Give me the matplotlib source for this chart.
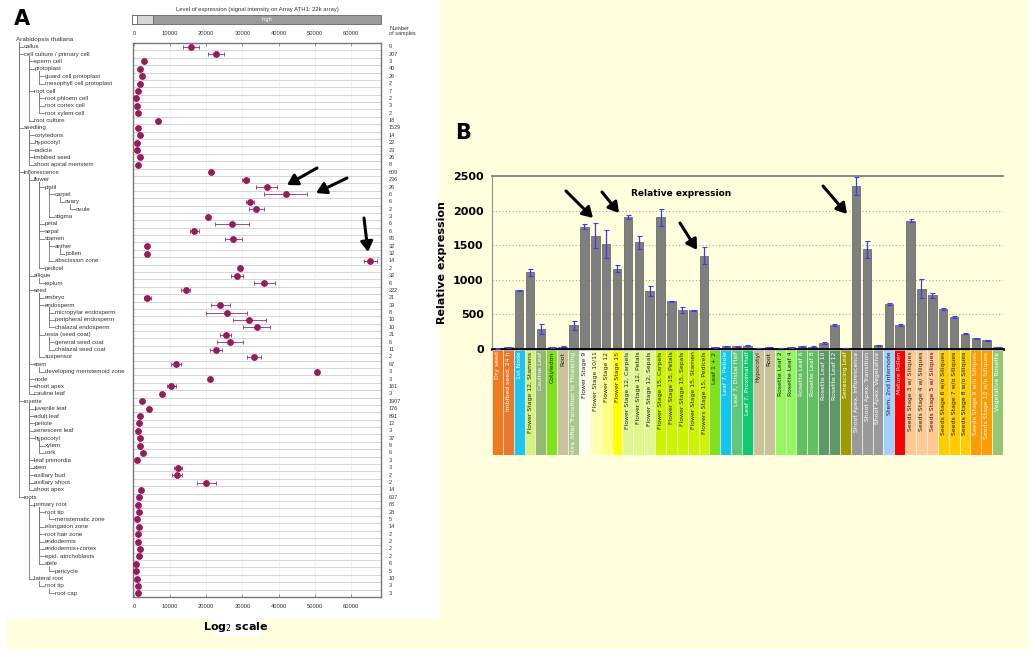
import numpy as np
import matplotlib.pyplot as plt
import matplotlib.transforms as mtransforms
from matplotlib.patches import Rectangle

W, H = 1034, 656

# ---------------- panel A : donnees ----------------
tissus = ["callus", "cell culture / primary cell", "sperm cell", "protoplast",
          "guard cell protoplast", "mesophyll cell protoplast", "root cell",
          "root phloem cell", "root cortex cell", "root xylem cell", "root culture",
          "seedling", "cotyledons", "hypocotyl", "radicle", "imbibed seed",
          "shoot apical meristem", "inflorescence", "flower", "pistil", "carpel",
          "ovary", "ovule", "stigma", "petal", "sepal", "stamen", "anther", "pollen",
          "abscission zone", "pedicel", "silique", "replum", "seed", "embryo",
          "endosperm", "micropylar endosperm", "peripheral endosperm",
          "chalazal endosperm", "testa (seed coat)", "general seed coat",
          "chalazal seed coat", "suspensor", "stem", "developing meristemoid zone",
          "node", "shoot apex", "cauline leaf", "rosette", "juvenile leaf",
          "adult leaf", "petiole", "senescent leaf", "hypocotyl", "xylem", "cork",
          "leaf primordia", "stem", "axillary bud", "axillary shoot", "shoot apex",
          "roots", "primary root", "root tip", "meristematic zone",
          "elongation zone", "root hair zone", "endodermis", "endodermis+cortex",
          "epid. atrichoblasts", "stele", "pericycle", "lateral root", "root tip",
          "root cap"]
niveaux = [1, 1, 2, 2, 3, 3, 2, 3, 3, 3, 2,
           1, 2, 2, 2, 2, 2,
           1, 2, 3, 4, 5, 6, 4, 3, 3, 3, 4, 5, 4, 3, 2, 3, 2, 3, 3, 4, 4, 4, 3, 4, 4, 3,
           2, 3, 2, 2, 2,
           1, 2, 2, 2, 2, 2, 3, 3, 2, 2, 2, 2, 2,
           1, 2, 3, 4, 3, 3, 3, 3, 3, 3, 4, 2, 3, 4]
signal = [15700, 22600, 2800, 1600, 2100, 1600, 1000, 600, 700, 1200, 6700,
          1200, 1600, 800, 900, 1600, 1000,
          21200, 30900, 36700, 41900, 32200, 33800, 20400, 27100, 16700, 27500,
          3600, 3600, 65300, 29300, 28400, 36000, 14300, 3700, 23900, 25600,
          31900, 33900, 25300, 26500, 22600, 33200, 11600, 50700, 20900, 10300, 7800,
          2300, 4200, 1700, 1400, 1100, 1700, 1600, 2500, 900, 12200, 11900, 20000, 2000,
          1300, 1100, 1300, 700, 1300, 1100, 1100, 1700, 1300, 600, 500, 900, 1100, 1000]
erreur = [2200, 2200, 0, 0, 0, 0, 0, 0, 0, 0, 0,
          0, 0, 0, 0, 0, 0,
          0, 1000, 2900, 6000, 1100, 2100, 0, 4700, 1200, 2300,
          0, 0, 1800, 0, 1700, 2900, 1200, 1000, 2700, 5700,
          4500, 3700, 1600, 3600, 1700, 1900, 1500, 0, 0, 1200, 0,
          0, 0, 0, 0, 0, 0, 0, 0, 0, 1100, 1500, 2600, 0,
          0, 0, 0, 0, 0, 0, 0, 0, 0, 0, 0, 0, 0, 0]
n_ech = ["9", "207", "3", "40", "26", "2", "7", "2", "3", "2", "18",
         "1529", "14", "22", "23", "26", "8",
         "609", "236", "26", "6", "6", "2", "3", "6", "6", "95", "32", "32", "14",
         "2", "32", "6", "222", "21", "39", "8", "10", "10", "21", "6", "11", "2",
         "67", "3", "3", "161", "3",
         "1907", "176", "891", "12", "3", "37", "9", "6", "3", "3", "2", "2", "14",
         "637", "68", "28", "5", "14", "2", "2", "2", "2", "6", "5", "10", "3", "3"]
ticks_A = [0, 10000, 20000, 30000, 40000, 50000, 60000]

# ---------------- panel B : donnees ----------------
etiquettes = ["Dry seed", "Imbibed seed, 24 h", "1st Node", "Flower Stage 12, Stamens",
              "Cauline Leaf", "Cotyledon", "Root", "Entire After Transition to Flowering",
              "Flower Stage 9", "Flower Stage 10/11", "Flower Stage 12", "Flower Stage 15",
              "Flower Stage 12, Carpels", "Flower Stage 12, Petals", "Flower Stage 12, Sepals",
              "Flower Stage 15, Carpels", "Flower Stage 15, Petals", "Flower Stage 15, Sepals",
              "Flower Stage 15, Stamen", "Flowers Stage 15, Pedicels", "Leaf 1 + 2",
              "Leaf 7, Petiole", "Leaf 7, Distal Half", "Leaf 7, Proximal Half",
              "Hypocotyl", "Root", "Rosette Leaf 2", "Rosette Leaf 4", "Rosette Leaf 6",
              "Rosette Leaf 8", "Rosette Leaf 10", "Rosette Leaf 12", "Senescing Leaf",
              "Shoot Apex, Inflorescence", "Shoot Apex, Transition", "Shoot Apex, Vegetative",
              "Stem, 2nd Internode", "Mature Pollen", "Seeds Stage 3 w/ Siliques",
              "Seeds Stage 4 w/ Siliques", "Seeds Stage 5 w/ Siliques",
              "Seeds Stage 6 w/o Siliques", "Seeds Stage 7 w/o Siliques",
              "Seeds Stage 8 w/o Siliques", "Seeds Stage 9 w/o Siliques",
              "Seeds Stage 10 w/o Siliques", "Vegetative Rosette"]
expression = [10, 24, 846, 1110, 293, 24, 34, 341, 1769, 1635, 1514, 1163, 1904, 1543,
              837, 1904, 692, 567, 562, 1351,
              24, 38, 38, 48, 14, 29, 14, 24, 38, 34, 87, 346, 14, 2356, 1442, 53,
              654, 346, 1856, 870, 774, 577, 466, 221, 154, 125, 29]
ecart = [3, 4, 8, 50, 75, 4, 4, 60, 40, 180, 200, 50, 30, 95, 75, 120, 8, 45, 8, 125,
         4, 5, 5, 5, 3, 4, 3, 4, 4, 4, 10, 10, 3, 125, 120, 5, 15, 20, 20, 140, 30,
         10, 15, 8, 8, 10, 5]
couleurs = ["#f07a1e", "#e8782c", "#1cc4ee", "#d6f27e", "#92b872", "#7fe01c", "#c9c29a",
            "#a8c98e", "#fffff2", "#ffffb4", "#ffff84", "#ffff00",
            "#dff88e", "#dff88e", "#dff88e", "#ccf400", "#ccf400", "#ccf400", "#ccf400",
            "#ccf400", "#7fe01c", "#10c6ee", "#62c67a", "#10c870", "#c9c29a", "#c9c29a",
            "#92f85e", "#92f85e", "#62c062", "#62c062", "#5f9868", "#5f9868", "#a09a00",
            "#999999", "#999999", "#999999", "#a2d0ff", "#ff0000",
            "#ffc996", "#ffc996", "#ffc996", "#ffcc00", "#ffcc00", "#ffcc00",
            "#ff9a00", "#ff9a00", "#92c872"]
texte_blanc = [1, 1, 1, 0, 1, 0, 0, 1, 0, 0, 0, 0, 0, 0, 0, 0, 0, 0, 0, 0, 0,
               1, 1, 1, 0, 0, 0, 0, 1, 1, 1, 1, 1, 1, 1, 1, 0, 1, 0, 0, 0, 0, 0, 0,
               1, 1, 1]
ticks_B = [0, 500, 1000, 1500, 2000, 2500]

POLICE = ["Liberation Sans", "DejaVu Sans"]


def px(x0, y0, x1, y1):
    # rectangle en pixels (haut-gauche, bas-droite) -> coordonnees figure
    return [x0 / W, 1 - y1 / H, (x1 - x0) / W, (y1 - y0) / H]


fig = plt.figure(figsize=(W / 100, H / 100), dpi=100)
fig.patch.set_facecolor("white")

# fond / textes en coordonnees pixel
ov = fig.add_axes([0, 0, 1, 1], zorder=0)
ov.set_xlim(0, W)
ov.set_ylim(H, 0)
ov.axis("off")
ov.add_patch(Rectangle((6, 0), 1022, 649, color="#ffffde", lw=0))
ov.add_patch(Rectangle((0, 0), 440, 619, color="white", lw=0))
ov.add_patch(Rectangle((213, 617), 48, 19, color="white", lw=0))
ov.text(236, 627, "Log$_2$ scale", ha="center", va="center", fontsize=8, fontweight="bold")
ov.text(14, 19, "A", fontsize=15, fontweight="bold", va="center")
ov.text(455, 133, "B", fontsize=15, fontweight="bold", va="center")

# en-tete panel A
ov.text(257, 9, "Level of expression (signal intensity on Array ATH1: 22k array)",
        ha="center", va="center", fontsize=4.2, color="#333333", family=POLICE)
ov.add_patch(Rectangle((132, 15), 249, 9, facecolor="#9b9b9b", edgecolor="#666666", lw=0.6))
ov.add_patch(Rectangle((132, 15), 21, 9, facecolor="#d6d6d6", edgecolor="#666666", lw=0.6))
ov.add_patch(Rectangle((132, 15), 5, 9, facecolor="white", edgecolor="#666666", lw=0.6))
ov.text(267, 19.5, "high", ha="center", va="center", fontsize=3.5, color="white")
ov.text(389, 31, "Number\nof samples", ha="left", va="center", fontsize=4,
        color="#333333", linespacing=1.0, family=POLICE)
ov.text(16, 39.5, "Arabidopsis thaliana", ha="left", va="center", fontsize=4.6,
        color="#333333", family=POLICE)

# ---------------- panel A : graphe ----------------
axA = fig.add_axes(px(133, 43, 381, 597), zorder=1)
lignes = np.arange(len(tissus))
axA.set_xlim(-280, 68300)
axA.set_ylim(len(tissus) - 0.5, -0.5)
for y in lignes[:-1]:
    axA.axhline(y + 0.5, color="#cfcfcf", lw=0.6, zorder=1)
for t in ticks_A[1:]:
    axA.axvline(t, color="#ececec", lw=0.5, zorder=0)
err = np.array(erreur, dtype=float)
err[err == 0] = np.nan
axA.errorbar(signal, lignes, xerr=err, fmt="none", ecolor="#9b2a68", elinewidth=0.6,
             capsize=1.5, capthick=0.6, zorder=2)
axA.plot(signal, lignes, "o", color="#951b5c", ms=3.9, mec="#951b5c", zorder=3)
axA.set_yticks([])
axA.set_xticks(ticks_A)
axA.set_xticklabels([str(t) for t in ticks_A], family=POLICE)
axA.tick_params(axis="x", which="both", direction="in", length=2, width=0.5,
                labelsize=4.2, labelcolor="#333333", color="#777777", pad=5,
                top=True, labeltop=True)
for s in axA.spines.values():
    s.set_color("#777777")
    s.set_linewidth(1.0)

# arborescence et noms
trans = mtransforms.blended_transform_factory(ov.transData, axA.transData)


def x_texte(niv):
    return 24 + (niv - 1) * 10.3


for i, (nom, niv, n) in enumerate(zip(tissus, niveaux, n_ech)):
    parent = -1
    for j in range(i - 1, -1, -1):
        if niveaux[j] == niv - 1:
            parent = j
            break
    xv = x_texte(niv) - 5.5
    ov.plot([xv, xv], [parent + 0.3, i], color="#777777", lw=0.6, transform=trans)
    ov.plot([xv, x_texte(niv) - 0.8], [i, i], color="#777777", lw=0.6, transform=trans)
    ov.text(x_texte(niv), i, nom, ha="left", va="center", fontsize=4.4,
            color="#333333", transform=trans, family=POLICE)
    ov.text(389, i, n, ha="left", va="center", fontsize=4, color="#333333",
            transform=trans, family=POLICE)

# ---------------- panel B : barres ----------------
axB = fig.add_axes(px(492, 176, 1003, 349), zorder=1)
axB.patch.set_alpha(0)
x = np.arange(len(expression))
axB.bar(x, expression, width=0.78, color="#7f7f7f", edgecolor="#5e5e5e", lw=0.5, zorder=2)
axB.errorbar(x, expression, yerr=ecart, fmt="none", ecolor="#3a3aff", elinewidth=0.9,
             capsize=1.8, capthick=0.8, zorder=3)
axB.set_xlim(-0.5, len(expression) - 0.5)
axB.set_ylim(0, 2500)
axB.set_yticks(ticks_B)
axB.set_yticklabels([str(t) for t in ticks_B], fontweight="bold")
axB.set_xticks([])
axB.tick_params(axis="y", length=0, labelsize=8, pad=6)
for t in ticks_B[1:-1]:
    axB.axhline(t, color="#a8a8a8", lw=0.8, ls=(0, (1, 2)), zorder=1)
axB.spines["right"].set_visible(False)
axB.spines["top"].set_color("#808080")
axB.spines["top"].set_linewidth(1.3)
axB.spines["left"].set_color("#909090")
axB.spines["left"].set_linewidth(0.8)
axB.spines["bottom"].set_color("black")
axB.spines["bottom"].set_linewidth(2)
axB.set_ylabel("Relative expression", fontsize=8, fontweight="bold", labelpad=4)
axB.text(0.37, 0.9, "Relative expression", transform=axB.transAxes, ha="center",
         va="center", fontsize=6.5, fontweight="bold")

# cases colorees des etiquettes
axL = fig.add_axes(px(492, 350, 1003, 455), zorder=1)
axL.bar(x, np.ones(len(x)), width=1.0, color=couleurs, edgecolor="white", lw=0.4)
axL.set_xlim(-0.5, len(x) - 0.5)
axL.set_ylim(0, 1)
axL.axis("off")
for xi, lab, blanc in zip(x, etiquettes, texte_blanc):
    axL.text(xi, 0.985, lab, rotation=90, ha="center", va="top", fontsize=4.4,
             color="white" if blanc else "#222222", clip_on=True)

# fleches
ov2 = fig.add_axes([0, 0, 1, 1], zorder=5)
ov2.set_xlim(0, W)
ov2.set_ylim(H, 0)
ov2.axis("off")
fleches = [((317, 168), (287, 185)), ((347, 178), (316, 193)), ((364, 218), (368, 252)),
           ((566, 191), (593, 218)), ((602, 192), (619, 213)), ((680, 223), (697, 250)),
           ((823, 186), (847, 214))]
for (x0, y0), (x1, y1) in fleches:
    ov2.annotate("", xy=(x1, y1), xytext=(x0, y0),
                 arrowprops=dict(arrowstyle="-|>,head_length=0.5,head_width=0.3",
                                 lw=2.2, color="black", mutation_scale=12,
                                 shrinkA=0, shrinkB=0))

fig.savefig("out.png", dpi=100)
